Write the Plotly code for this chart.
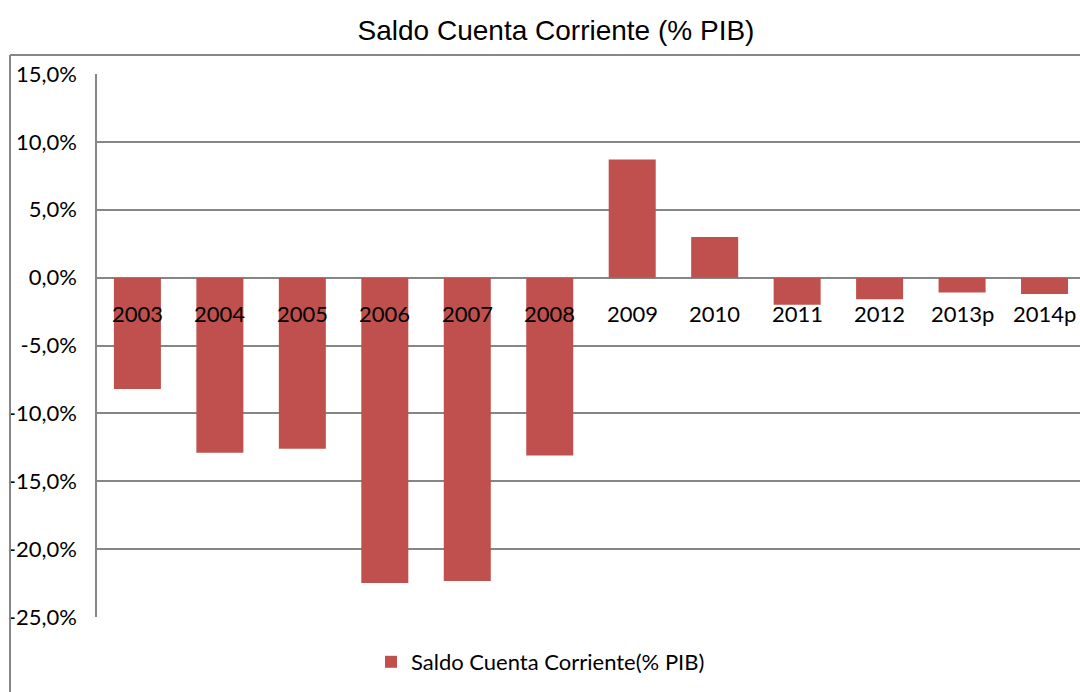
import plotly.graph_objects as go

categories = ["2003", "2004", "2005", "2006", "2007", "2008", "2009", "2010", "2011", "2012", "2013p", "2014p"]
saldo = [-8.2, -12.9, -12.6, -22.5, -22.35, -13.1, 8.7, 3.0, -2.0, -1.6, -1.1, -1.2]
y_ticks = [15, 10, 5, 0, -5, -10, -15, -20, -25]
y_tick_labels = ["15,0%", "10,0%", "5,0%", "0,0%", "-5,0%", "-10,0%", "-15,0%", "-20,0%", "-25,0%"]

BAR = "#C0504D"
GRID = "#868686"
FONT = "Lato, Carlito, Calibri, sans-serif"

fig = go.Figure()
fig.add_trace(go.Bar(
    x=list(range(len(categories))), y=saldo, name="Saldo Cuenta Corriente(% PIB)",
    marker=dict(color=BAR, line=dict(width=0)), width=0.57, showlegend=True,
))

for i, c in enumerate(categories):
    fig.add_annotation(x=i, y=0, xref="x", yref="y", text=c, showarrow=False,
                       yanchor="middle", yshift=-36,
                       font=dict(family=FONT, size=22, color="black"))

# chart-area border (top and left)
fig.add_shape(type="line", xref="paper", yref="paper", x0=-87/983, x1=1.0, y0=(617-55)/543, y1=(617-55)/543,
              line=dict(color=GRID, width=2))
fig.add_shape(type="line", xref="paper", yref="paper", x0=-87/983, x1=-87/983, y0=(617-55)/543, y1=(617-700)/543,
              line=dict(color=GRID, width=2))

fig.update_layout(
    width=1080, height=692,
    margin=dict(l=97, r=0, t=74, b=75),
    paper_bgcolor="white", plot_bgcolor="white",
    title=dict(text="Saldo Cuenta Corriente (% PIB)", x=556/1080, xanchor="center", y=1-30/692, yanchor="middle",
               font=dict(family="Liberation Sans Narrow, Arial Narrow, Liberation Sans, sans-serif", size=28, color="black")),
    xaxis=dict(range=[-0.49, 11.43], showticklabels=False, showgrid=False, zeroline=False,
               showline=False, ticks=""),
    yaxis=dict(range=[-25, 15], tickvals=y_ticks, ticktext=y_tick_labels, showgrid=True, gridcolor=GRID, gridwidth=1.5,
               zeroline=False, showline=True, linecolor=GRID, linewidth=1.5, ticks="", ticklabelstandoff=14,
               tickfont=dict(family=FONT, size=22, color="black")),
    legend=dict(orientation="h", x=(371-97)/983, xanchor="left", y=(617-662)/543, yanchor="middle",
                font=dict(family=FONT, size=22, color="black"), bgcolor="rgba(0,0,0,0)"),
    showlegend=True,
)

fig.write_html("out.html", config={"displayModeBar": False},
               post_script="document.body.style.margin='0';document.body.style.overflow='hidden';")
